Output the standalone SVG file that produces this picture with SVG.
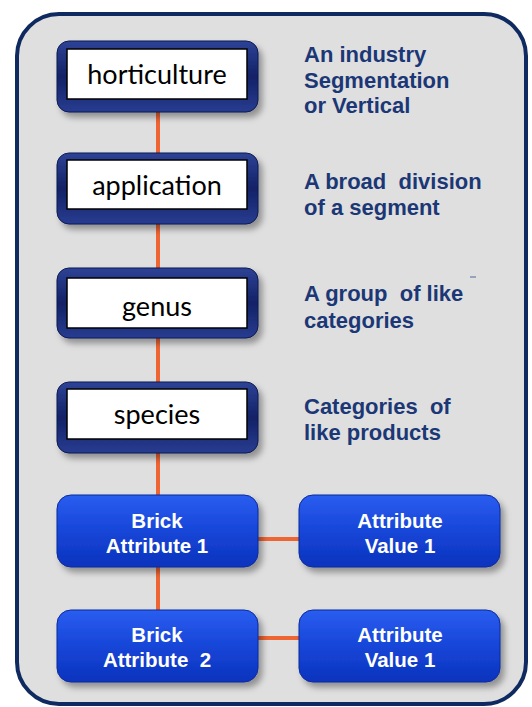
<svg xmlns="http://www.w3.org/2000/svg" width="532" height="707" viewBox="0 0 532 707">
<style>
.lvl{font-family:Lato,"Open Sans",sans-serif;font-size:27px;fill:#000;text-anchor:middle}
.desc{font-family:"Liberation Sans",Arial,sans-serif;font-size:22px;font-weight:bold;fill:#1b3775}
.btx{font-family:"Liberation Sans",Arial,sans-serif;font-size:20.5px;font-weight:bold;fill:#fff;text-anchor:middle}
.conn{stroke:#ee6533;stroke-width:4;fill:none}
.dark{fill:url(#gDark);stroke:#0d1a52;stroke-width:1;filter:url(#sh)}
.inner{fill:#fff;stroke:#000;stroke-width:1.5}
.blue{fill:url(#gBlue);stroke:#0b2a9c;stroke-width:1;filter:url(#sh)}
</style>
<defs>
<linearGradient id="gDark" x1="0" y1="0" x2="0" y2="1">
<stop offset="0" stop-color="#2e4296"/>
<stop offset="0.5" stop-color="#132266"/>
<stop offset="1" stop-color="#283c90"/>
</linearGradient>
<linearGradient id="gBlue" x1="0" y1="0" x2="0" y2="1">
<stop offset="0" stop-color="#2a5df0"/>
<stop offset="0.5" stop-color="#1646d8"/>
<stop offset="1" stop-color="#0c33bd"/>
</linearGradient>
<filter id="sh" x="-10%" y="-20%" width="130%" height="150%">
<feDropShadow dx="4" dy="5" stdDeviation="3" flood-color="#000" flood-opacity="0.35"/>
</filter>
</defs>
<rect x="0" y="0" width="532" height="707" fill="#fff"/>
<rect id="panel" x="17" y="14" width="509" height="690" rx="42" fill="#dfdfdf" stroke="#0f2a60" stroke-width="4"/>
<g id="connectors">
<line class="conn" x1="158" y1="110" x2="158" y2="155"/>
<line class="conn" x1="158" y1="222" x2="158" y2="270"/>
<line class="conn" x1="158" y1="336" x2="158" y2="384"/>
<line class="conn" x1="158" y1="450" x2="158" y2="497"/>
<line class="conn" x1="158" y1="565" x2="158" y2="612"/>
<line class="conn" x1="256" y1="539" x2="301" y2="539"/>
<line class="conn" x1="256" y1="638" x2="301" y2="638"/>
</g>
<g id="horticulture">
<rect class="dark" x="57" y="41" width="201" height="71" rx="12"/>
<rect class="inner" x="67" y="49" width="180" height="50"/>
<text class="lvl" x="157" y="84">horticulture</text>
</g>
<g id="application">
<rect class="dark" x="57" y="153" width="201" height="71" rx="12"/>
<rect class="inner" x="67" y="160" width="180" height="49"/>
<text class="lvl" x="157" y="195">application</text>
</g>
<g id="genus">
<rect class="dark" x="57" y="268" width="201" height="70" rx="12"/>
<rect class="inner" x="67" y="278" width="180" height="50"/>
<text class="lvl" x="157" y="316">genus</text>
</g>
<g id="species">
<rect class="dark" x="57" y="382" width="201" height="71" rx="12"/>
<rect class="inner" x="67" y="389" width="180" height="50"/>
<text class="lvl" x="157" y="424">species</text>
</g>
<g id="brick1">
<rect class="blue" x="57" y="495" width="201" height="72" rx="14"/>
<text class="btx" x="157" y="528">Brick</text>
<text class="btx" x="157" y="553">Attribute 1</text>
</g>
<g id="value1">
<rect class="blue" x="299" y="495" width="201" height="72" rx="14"/>
<text class="btx" x="400" y="528">Attribute</text>
<text class="btx" x="400" y="553">Value 1</text>
</g>
<g id="brick2">
<rect class="blue" x="57" y="610" width="201" height="72" rx="14"/>
<text class="btx" x="157" y="642">Brick</text>
<text class="btx" x="157" y="667" xml:space="preserve">Attribute  2</text>
</g>
<g id="value2">
<rect class="blue" x="299" y="610" width="201" height="72" rx="14"/>
<text class="btx" x="400" y="642">Attribute</text>
<text class="btx" x="400" y="667">Value 1</text>
</g>
<g id="descriptions">
<text class="desc" x="304" y="62">An industry</text>
<text class="desc" x="304" y="88">Segmentation</text>
<text class="desc" x="304" y="113">or Vertical</text>
<text class="desc" x="304" y="189" xml:space="preserve">A broad  division</text>
<text class="desc" x="304" y="215">of a segment</text>
<text class="desc" x="304" y="301" xml:space="preserve">A group  of like</text>
<text class="desc" x="304" y="328">categories</text>
<text class="desc" x="304" y="414" xml:space="preserve">Categories  of</text>
<text class="desc" x="304" y="440">like products</text>
<line x1="470" y1="277" x2="476" y2="277" stroke="#7f8fb0" stroke-width="1.5"/>
</g>
</svg>
